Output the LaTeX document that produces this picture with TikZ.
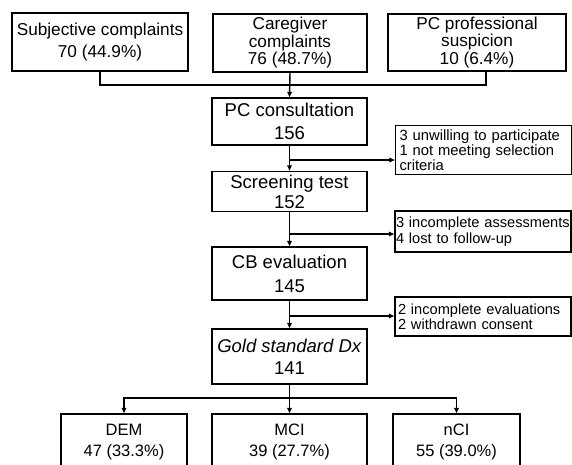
\documentclass[tikz,border=0pt]{standalone}
\usepackage{fontspec}
\setmainfont{Liberation Sans}
\usetikzlibrary{arrows.meta}
\begin{document}
\begin{tikzpicture}[x=1pt,y=-1pt,line width=1.4pt,
  box/.style={draw,rectangle,inner sep=0pt,align=center,font=\fontsize{17.2}{21.5}\selectfont},
  box3/.style={box,font=\fontsize{17.2}{17.5}\selectfont},
  mainbox/.style={box,minimum width=155},
  outbox/.style={box,minimum height=56,font=\fontsize{16.5}{21.5}\selectfont},
  sidebase/.style={draw,rectangle,inner ysep=0pt,align=left,minimum width=176,
    execute at begin node={\hyphenpenalty=10000\exhyphenpenalty=10000}},
  sideA/.style={sidebase,text width=168,inner xsep=4,font=\fontsize{14.8}{13}\selectfont},
  sideB/.style={sidebase,text width=174,inner xsep=1,font=\fontsize{14.6}{16}\selectfont},
  sideC/.style={sidebase,text width=170,inner xsep=3,font=\fontsize{14.6}{15}\selectfont},
  arr/.style={-{Triangle[length=5.5pt,width=4.5pt]}}]
\useasboundingbox (0,0) rectangle (572,464);
\clip (0,0) rectangle (572,464);
\fill[white] (0,0) rectangle (572,464);
% top row
\node[box,minimum width=176,minimum height=58] (subj) at (100,42) {Subjective complaints\\70 (44.9\%)};
\node[box3,minimum width=154,minimum height=58] (care) at (290,43) {Caregiver\\complaints\\76 (48.7\%)};
\node[box3,minimum width=178,minimum height=57] (prof) at (477,42.5) {PC professional\\suspicion\\10 (6.4\%)};
% main column
\node[mainbox,minimum height=47,font=\fontsize{18.5}{23}\selectfont] (pcc) at (289.5,121.5) {PC consultation\\156};
\node[mainbox,minimum height=40,font=\fontsize{18.5}{20}\selectfont] (scr) at (289.5,191.5) {Screening test\\152};
\node[mainbox,minimum height=53,font=\fontsize{18.5}{24}\selectfont] (cb) at (289.5,273.5) {CB evaluation\\145};
\node[mainbox,minimum height=55,font=\fontsize{18.5}{22}\selectfont] (gold) at (289.5,356.5) {\textit{Gold standard Dx}\\141};
% outcomes
\node[outbox,minimum width=126] (dem) at (124,442) {DEM\\47 (33.3\%)};
\node[outbox,minimum width=155] (mci) at (289.5,442) {MCI\\39 (27.7\%)};
\node[outbox,minimum width=127] (nci) at (456.5,442) {nCI\\55 (39.0\%)};
% side boxes
\node[sideA,minimum height=48.6] (s1) at (483.5,150) {3 unwilling to participate\\1 not meeting selection\\criteria};
\node[sideB,minimum height=41] (s2) at (483,231.5) {3 incomplete assessments\\4 lost to follow-up};
\node[sideC,minimum height=39] (s3) at (483,316.5) {2 incomplete evaluations\\2 withdrawn consent};
% junction coordinates
\coordinate (j1) at (290,85);
\coordinate (b1) at (289.5,160);
\coordinate (b2) at (289.5,234);
\coordinate (b3) at (289.5,316);
\coordinate (j2) at (289.5,398);
% top connectors
\draw (subj.south) |- (j1);
\draw ([xshift=9]prof.south) |- (j1);
\draw[arr] (care.south) -- (pcc.north);
% main column
\draw[arr] (pcc.south) -- (scr.north);
\draw[arr] (b1) -- (b1 -| s1.west);
\draw[arr] (scr.south) -- (cb.north);
\draw[arr] (b2) -- (b2 -| s2.west);
\draw[arr] (cb.south) -- (gold.north);
\draw[arr] (b3) -- (b3 -| s3.west);
% outcomes
\draw[arr] (gold.south) -- (mci.north);
\draw[arr] (j2) -| (dem.north);
\draw[arr] (j2) -| (nci.north);
\end{tikzpicture}
\end{document}
